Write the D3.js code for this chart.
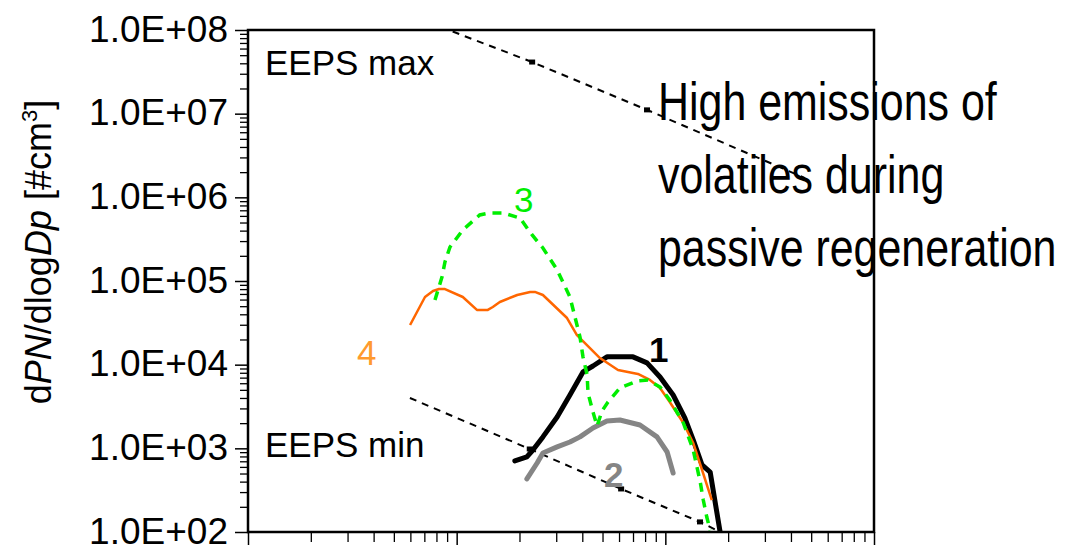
<!DOCTYPE html>
<html>
<head>
<meta charset="utf-8">
<script src="https://cdn.jsdelivr.net/npm/d3@7"></script>
<style>
  body { margin: 0; background: #fff; }
  svg { display: block; }
  text { font-family: "Liberation Sans", Arial, sans-serif; }
</style>
</head>
<body>
<svg id="chart" width="1065" height="545"></svg>
<script>
// Particle size distributions (diameter in nm, dPN/dlogDp in #/cm3)
const series1Dp = [19.0, 21.7, 23.2, 25.9, 30.3, 34.9, 40.3, 45.0, 52.5, 70.0, 81.7, 94.3, 109, 124, 136, 150, 164, 183];
const series1Val = [706, 789, 955, 1370, 2370, 4340, 8180, 9640, 12400, 12400, 10500, 7130, 4340, 2310, 1260, 632, 521, 100];

const series2Dp = [21.7, 24.3, 25.9, 30.3, 34.9, 39.0, 45.0, 52.5, 60.6, 75.6, 91.2, 102, 109];
const series2Val = [431, 668, 880, 1040, 1190, 1370, 1750, 2120, 2180, 1900, 1370, 904, 507];

const series3Dp = [7.87, 8.51, 8.79, 9.29, 10.7, 12.9, 14.4, 16.7, 20.1, 23.0, 25.9, 30.3, 34.9, 39.0, 40.3, 42.2, 42.6, 45.0, 47.1, 49.7, 53.1, 60.6, 73.1, 82.6, 94.3, 105, 122, 136, 147, 152, 158, 164];
const series3Val = [59300, 112000, 169000, 255000, 407000, 615000, 650000, 650000, 566000, 355000, 248000, 136000, 64400, 21400, 12400, 7530, 4590, 2720, 1850, 2790, 3580, 5260, 6380, 6560, 5410, 3780, 2010, 955, 396, 241, 151, 105];

const series4Dp = [5.98, 7.05, 7.7, 8.23, 8.79, 10.7, 12.5, 14.1, 14.9, 16.1, 19.5, 22.5, 23.7, 25.9, 33.8, 37.7, 48.6, 59.3, 73.9, 84.4, 94.3, 105, 122, 136, 150, 167];
const series4Val = [29800, 64400, 76000, 80200, 80200, 64400, 45100, 45100, 48900, 56100, 68000, 74000, 74000, 68000, 36100, 22600, 12000, 8630, 7740, 6560, 5260, 3580, 2010, 1160, 551, 241];

// Instrument range limits
const eepsMaxDp = [5.6, 23.0, 81.7, 467];
const eepsMaxVal = [1.6e8, 4.14e7, 1.11e7, 1.7e6];
const eepsMinDp = [5.97, 22.4, 61.4, 146.6, 183];
const eepsMinVal = [4000, 982, 327, 132, 100];

// Axis ticks
const yMajorTicks = [1e2, 1e3, 1e4, 1e5, 1e6, 1e7, 1e8];
const yTickLabels = ["1.0E+02", "1.0E+03", "1.0E+04", "1.0E+05", "1.0E+06", "1.0E+07", "1.0E+08"];
const xMajorTicks = [1, 10, 100, 1000];

const svg = d3.select("#chart");
const plot = { left: 248, top: 30, right: 874, bottom: 532 };

const x = d3.scaleLog().domain([1, 1000]).range([plot.left, plot.right]);
const y = d3.scaleLog().domain([1e2, 1e8]).range([plot.bottom, plot.top]);

function minorTicks(majors) {
  const out = [];
  for (let i = 0; i < majors.length - 1; i++)
    for (let k = 2; k <= 9; k++) out.push(majors[i] * k);
  return out;
}

svg.append("defs").append("clipPath").attr("id", "plotClip")
  .append("rect")
  .attr("x", plot.left).attr("y", plot.top)
  .attr("width", plot.right - plot.left).attr("height", plot.bottom - plot.top);

// Y axis: minor and major ticks
const yMinorAxis = d3.axisLeft(y).tickValues(minorTicks(yMajorTicks)).tickSize(8).tickFormat("");
const yMajorAxis = d3.axisLeft(y).tickValues(yMajorTicks).tickSize(13).tickPadding(7)
  .tickFormat((d, i) => yTickLabels[i]);

svg.append("g").attr("transform", `translate(${plot.left},0)`).call(yMinorAxis)
  .call(g => g.select(".domain").remove())
  .call(g => g.selectAll("line").attr("stroke", "#000").attr("stroke-width", 1.3));
svg.append("g").attr("transform", `translate(${plot.left},0)`).call(yMajorAxis)
  .call(g => g.select(".domain").remove())
  .call(g => g.selectAll("line").attr("stroke", "#000").attr("stroke-width", 1.5))
  .call(g => g.selectAll("text").attr("font-size", 37).attr("fill", "#000").attr("dy", "0.3em")
    .attr("font-family", "Liberation Sans, Arial, sans-serif"));

// X axis: ticks only
const xMinorAxis = d3.axisBottom(x).tickValues(minorTicks(xMajorTicks)).tickSize(10).tickFormat("");
const xMajorAxis = d3.axisBottom(x).tickValues(xMajorTicks).tickSize(16).tickFormat("");
svg.append("g").attr("transform", `translate(0,${plot.bottom})`).call(xMinorAxis)
  .call(g => g.select(".domain").remove())
  .call(g => g.selectAll("line").attr("stroke", "#000").attr("stroke-width", 1.3));
svg.append("g").attr("transform", `translate(0,${plot.bottom})`).call(xMajorAxis)
  .call(g => g.select(".domain").remove())
  .call(g => g.selectAll("line").attr("stroke", "#000").attr("stroke-width", 1.5));

// Y axis title
const yTitle = svg.append("text")
  .attr("transform", "translate(51,252) rotate(-90)")
  .attr("text-anchor", "middle")
  .attr("font-size", 36)
  .attr("fill", "#000");
yTitle.append("tspan").text("d");
yTitle.append("tspan").attr("font-style", "italic").text("PN");
yTitle.append("tspan").text("/dlog");
yTitle.append("tspan").attr("font-style", "italic").text("Dp");
yTitle.append("tspan").text(" [#cm");
yTitle.append("tspan").attr("font-size", 22).attr("dy", -14).text("3");
yTitle.append("tspan").attr("dy", 14).text("]");

const line = d3.line().x(d => x(d[0])).y(d => y(d[1]));
const pairs = (a, b) => a.map((v, i) => [v, b[i]]);

const marks = svg.append("g").attr("clip-path", "url(#plotClip)");

// Instrument limits (dashed) with point markers
[[eepsMaxDp, eepsMaxVal], [eepsMinDp, eepsMinVal]].forEach(([dp, val]) => {
  const pts = pairs(dp, val);
  marks.append("path").attr("d", line(pts))
    .attr("fill", "none").attr("stroke", "#000").attr("stroke-width", 2)
    .attr("stroke-dasharray", "7,6");
  marks.selectAll(null).data(pts.slice(1, pts.length - 1)).enter().append("rect")
    .attr("x", d => x(d[0]) - 3).attr("y", d => y(d[1]) - 2.5)
    .attr("width", 6).attr("height", 5).attr("fill", "#000");
});

// Size distributions
marks.append("path").attr("d", line(pairs(series2Dp, series2Val)))
  .attr("fill", "none").attr("stroke", "#858585").attr("stroke-width", 5)
  .attr("stroke-linecap", "round").attr("stroke-linejoin", "round");
marks.append("path").attr("d", line(pairs(series1Dp, series1Val)))
  .attr("fill", "none").attr("stroke", "#000").attr("stroke-width", 5)
  .attr("stroke-linecap", "round").attr("stroke-linejoin", "round");
marks.append("path").attr("d", line(pairs(series4Dp, series4Val)))
  .attr("fill", "none").attr("stroke", "#ff6600").attr("stroke-width", 2.5)
  .attr("stroke-linejoin", "round");
marks.append("path").attr("d", line(pairs(series3Dp, series3Val)))
  .attr("fill", "none").attr("stroke", "#00ee00").attr("stroke-width", 3.5)
  .attr("stroke-dasharray", "9,7");

// Frame
svg.append("rect")
  .attr("x", plot.left).attr("y", plot.top)
  .attr("width", plot.right - plot.left).attr("height", plot.bottom - plot.top)
  .attr("fill", "none").attr("stroke", "#000").attr("stroke-width", 2.5);

// Labels
const label = (txt, px, py, color, weight) => svg.append("text")
  .attr("x", px).attr("y", py).attr("font-size", 35)
  .attr("font-weight", weight || "normal").attr("fill", color).text(txt);
label("EEPS max", 265, 75, "#000");
label("EEPS min", 265, 457, "#000");
label("3", 514, 212, "#00ee00");
label("1", 649, 362, "#000", "bold");
label("2", 604, 487, "#858585", "bold");
label("4", 357, 365, "#ff9a2e");

// Annotation
const note = svg.append("g").attr("transform", "translate(658,0) scale(0.81,1)");
["High emissions of", "volatiles during", "passive regeneration"].forEach((t, i) => {
  note.append("text").attr("x", 0).attr("y", 120 + i * 73)
    .attr("font-size", 53).attr("fill", "#000").text(t);
});
</script>
</body>
</html>
